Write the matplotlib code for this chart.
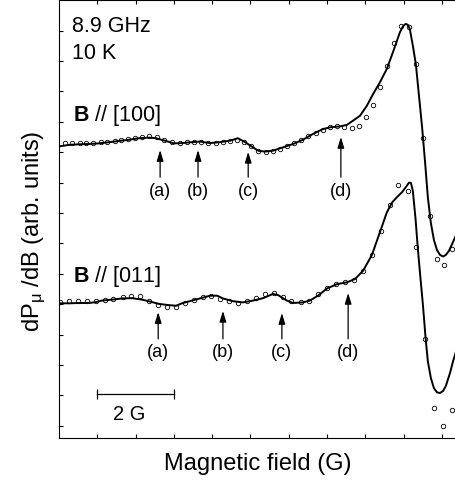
"""Field-swept EPR derivative spectra for two orientations (out.png)."""

import matplotlib

matplotlib.use("Agg")
import matplotlib.pyplot as plt

plt.rcParams["font.family"] = ["Liberation Sans", "DejaVu Sans"]
plt.rcParams["mathtext.fontset"] = "custom"
plt.rcParams["mathtext.rm"] = "Liberation Sans"
plt.rcParams["mathtext.bf"] = "Liberation Sans:bold"
plt.rcParams["mathtext.it"] = "Liberation Sans:italic"

# B // [100] : measured points (G, arb. units)
upper_dot_x = [0.16, 0.34, 0.55, 0.71, 0.89, 1.10, 1.25, 1.46, 1.62, 1.80,
               1.98, 2.17, 2.35, 2.56, 2.74, 2.95, 3.16, 3.34, 3.53, 3.71,
               3.89, 4.10, 4.28, 4.47, 4.65, 4.83, 5.01, 5.20, 5.41, 5.59,
               5.77, 5.95, 6.14, 6.32, 6.50, 6.71, 6.89, 7.08, 7.26, 7.44,
               7.65, 7.83, 8.02, 8.20, 8.38, 8.56, 8.75, 8.93, 9.14, 9.32,
               9.50, 9.69, 9.87, 10.05, 10.26]
upper_dot_y = [9.29, 9.29, 9.30, 9.30, 9.30, 9.33, 9.35, 9.38, 9.40, 9.43,
               9.46, 9.51, 9.54, 9.51, 9.41, 9.33, 9.30, 9.33, 9.35, 9.35,
               9.29, 9.29, 9.33, 9.36, 9.41, 9.33, 9.19, 9.03, 9.00, 9.03,
               9.11, 9.21, 9.30, 9.41, 9.54, 9.63, 9.73, 9.82, 9.86, 9.82,
               9.79, 9.87, 10.15, 10.55, 11.16, 11.85, 12.58, 13.16, 13.11, 11.90,
               9.46, 6.91, 5.49, 5.29, 5.82]

# B // [100] : simulated curve
upper_line_x = [0.00, 0.26, 0.52, 0.78, 1.04, 1.31, 1.57, 1.83, 2.09, 2.35,
                2.53, 2.79, 3.00, 3.21, 3.47, 3.68, 3.94, 4.20, 4.47, 4.67,
                4.86, 5.04, 5.20, 5.38, 5.59, 5.85, 6.11, 6.37, 6.63, 6.89,
                7.08, 7.34, 7.52, 7.68, 7.86, 8.04, 8.20, 8.38, 8.56, 8.72,
                8.90, 8.98, 9.05, 9.11, 9.16, 9.24, 9.32, 9.40, 9.48, 9.56,
                9.63, 9.71, 9.79, 9.87, 9.95, 10.03, 10.10, 10.18, 10.29, 10.37]
upper_line_y = [9.19, 9.24, 9.26, 9.27, 9.29, 9.33, 9.37, 9.41, 9.46, 9.48,
                9.46, 9.37, 9.29, 9.30, 9.33, 9.35, 9.30, 9.33, 9.38, 9.46,
                9.33, 9.18, 9.05, 9.02, 9.05, 9.16, 9.27, 9.41, 9.60, 9.76,
                9.82, 9.85, 9.90, 10.04, 10.20, 10.53, 10.91, 11.30, 11.74, 12.29,
                12.94, 13.14, 13.22, 13.19, 13.05, 12.50, 11.87, 10.85, 9.83, 8.65,
                7.53, 6.67, 6.11, 5.78, 5.62, 5.57, 5.62, 5.75, 6.05, 6.28]

# B // [011] : measured points
lower_dot_x = [0.03, 0.26, 0.49, 0.73, 0.96, 1.19, 1.42, 1.66, 1.89, 2.12,
               2.35, 2.59, 2.82, 3.05, 3.28, 3.52, 3.75, 3.98, 4.21, 4.45,
               4.68, 4.91, 5.14, 5.38, 5.61, 5.84, 6.07, 6.31, 6.54, 6.77,
               7.00, 7.24, 7.47, 7.70, 7.93, 8.17, 8.40, 8.63, 8.86, 9.10,
               9.33, 9.56, 9.79, 10.03, 10.26]
lower_dot_y = [4.08, 4.10, 4.10, 4.10, 4.11, 4.14, 4.17, 4.23, 4.26, 4.26,
               4.12, 3.97, 3.92, 3.92, 4.04, 4.15, 4.23, 4.26, 4.17, 4.12,
               4.04, 4.10, 4.19, 4.34, 4.37, 4.23, 4.10, 4.06, 4.12, 4.34,
               4.52, 4.66, 4.72, 4.81, 5.09, 5.63, 6.40, 7.27, 7.93, 7.71,
               5.87, 2.86, 0.58, 0.00, 0.53]

# B // [011] : simulated curve
lower_line_x = [0.00, 0.26, 0.52, 0.78, 0.97, 1.12, 1.38, 1.65, 1.91, 2.17,
                2.40, 2.61, 2.87, 3.06, 3.21, 3.47, 3.68, 3.94, 4.13, 4.28,
                4.54, 4.80, 5.07, 5.33, 5.59, 5.72, 5.95, 6.11, 6.37, 6.55,
                6.76, 7.00, 7.26, 7.52, 7.73, 7.94, 8.17, 8.38, 8.56, 8.70,
                8.83, 8.96, 9.06, 9.14, 9.19, 9.24, 9.31, 9.37, 9.44, 9.50,
                9.57, 9.63, 9.71, 9.79, 9.87, 9.95, 10.03, 10.10, 10.21, 10.29,
                10.37]
lower_line_y = [4.03, 4.03, 4.04, 4.04, 4.07, 4.12, 4.15, 4.19, 4.20, 4.15,
                4.08, 4.01, 3.97, 3.95, 4.03, 4.12, 4.19, 4.28, 4.28, 4.19,
                4.10, 4.06, 4.12, 4.20, 4.34, 4.30, 4.12, 4.04, 4.06, 4.12,
                4.28, 4.52, 4.66, 4.72, 4.83, 5.10, 5.62, 6.37, 7.02, 7.35,
                7.53, 7.69, 7.86, 8.00, 7.99, 7.72, 6.80, 5.82, 4.83, 4.01,
                2.92, 2.13, 1.57, 1.24, 1.10, 1.08, 1.15, 1.31, 1.74, 2.13,
                2.46]

labels = ["(a)", "(b)", "(c)", "(d)"]
upper_arrow_x = [2.64, 3.63, 4.94, 7.36]
upper_arrow_tip = [9.07, 9.07, 9.01, 9.50]
lower_arrow_x = [2.59, 4.28, 5.82, 7.55]
lower_arrow_tip = [3.74, 3.78, 3.71, 4.37]

fig = plt.figure(figsize=(4.56, 4.85), dpi=100)
ax = fig.add_axes([59 / 456, 45.7 / 485, 1 - 59 / 456, 438.3 / 485])

for lx, ly, dx, dy in [(upper_line_x, upper_line_y, upper_dot_x, upper_dot_y),
                       (lower_line_x, lower_line_y, lower_dot_x, lower_dot_y)]:
    ax.plot(lx, ly, color="black", linewidth=1.4, solid_joinstyle="round")
    ax.plot(dx, dy, "o", color="black", markersize=3.2, markeredgewidth=0.6,
            markerfacecolor="none")

arrow = dict(arrowstyle="-|>,head_length=0.65,head_width=0.2", color="black",
             lw=0.9, mutation_scale=10, shrinkA=0, shrinkB=0)
for xs, tips, tail, lab_y in [(upper_arrow_x, upper_arrow_tip, 8.18, 7.59),
                              (lower_arrow_x, lower_arrow_tip, 2.86, 2.29)]:
    for x, tip, lab in zip(xs, tips, labels):
        ax.annotate("", xy=(x, tip), xytext=(x, tail), arrowprops=arrow)
        ax.text(x, lab_y, lab, ha="center", va="baseline", fontsize=13)

ax.text(0.34, 13.0, "8.9 GHz", fontsize=15.5, va="baseline")
ax.text(0.34, 12.09, "10 K", fontsize=15.5, va="baseline")
ax.text(0.36, 10.07, r"$\mathbf{B}$ // [100]", fontsize=15.5, va="baseline")
ax.text(0.36, 4.77, r"$\mathbf{B}$ // [011]", fontsize=15.5, va="baseline")

# 2 G scale bar
ax.plot([1, 3], [1.05, 1.05], color="black", lw=0.9)
ax.vlines([1, 3], 0.89, 1.21, color="black", lw=0.9)
ax.text(1.41, 0.22, "2 G", fontsize=14.5, va="baseline")

ax.set_xlim(0, 10.366)
ax.set_ylim(-0.41, 14.006)
ax.set_xticks(range(1, 11))
ax.set_yticks(range(0, 14))
ax.tick_params(direction="in", length=3, width=0.8, top=True, right=False,
               labelbottom=False, labelleft=False)
ax.spines["right"].set_visible(False)
for s in ["left", "top", "bottom"]:
    ax.spines[s].set_linewidth(0.8)

ax.set_xlabel("Magnetic field (G)", fontsize=17, labelpad=10)
ax.set_ylabel(r"dP$_{\mathrm{\mu}}$ /dB (arb. units)", fontsize=17, labelpad=8)
ax.yaxis.label.set_y(0.475)

fig.savefig("out.png", dpi=100)
